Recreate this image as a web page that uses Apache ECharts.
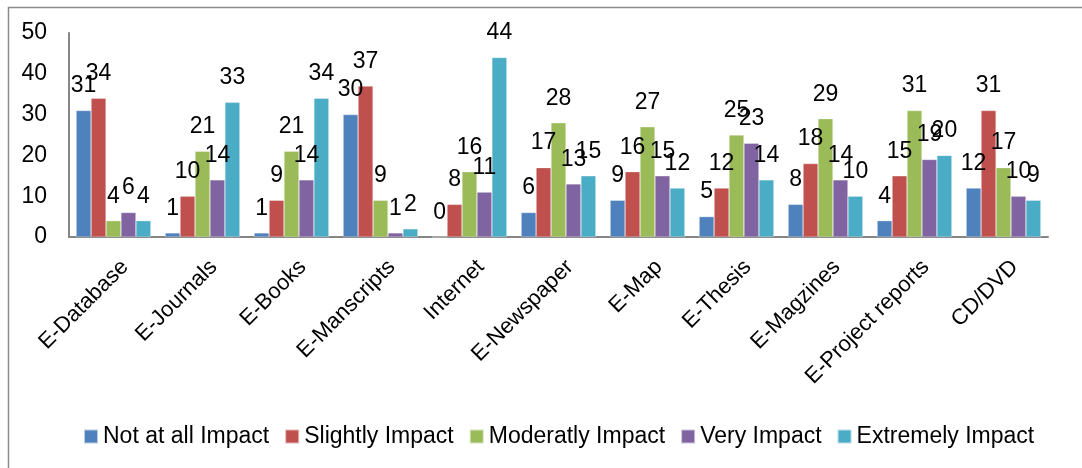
<!DOCTYPE html>
<html><head><meta charset="utf-8">
<script src="https://cdn.jsdelivr.net/npm/echarts@6/dist/echarts.min.js"></script>
<style>html,body{margin:0;padding:0;background:#fff}#c{width:1082px;height:468px}</style>
</head><body><div id="c"></div>
<script>
const categories = ['E-Database','E-Journals','E-Books','E-Manscripts','Internet','E-Newspaper','E-Map','E-Thesis','E-Magzines','E-Project reports','CD/DVD'];
const seriesNames = ['Not at all Impact','Slightly Impact','Moderatly Impact','Very Impact','Extremely Impact'];
const notAtAll   = [31, 1, 1, 30, 0, 6, 9, 5, 8, 4, 12];
const slightly   = [34, 10, 9, 37, 8, 17, 16, 12, 18, 15, 31];
const moderately = [4, 21, 21, 9, 16, 28, 27, 25, 29, 31, 17];
const very       = [6, 14, 14, 1, 11, 13, 15, 23, 14, 19, 10];
const extremely  = [4, 33, 34, 2, 44, 15, 12, 14, 10, 20, 9];
const yTicks = [0, 10, 20, 30, 40, 50];

const colors = ['#4F81BD','#C0504D','#9BBB59','#8064A2','#4BACC6'];
const values = [notAtAll, slightly, moderately, very, extremely];
const font = '"Liberation Sans", Arial, sans-serif';

const chart = echarts.init(document.getElementById('c'), null, {renderer:'canvas'});
chart.setOption({
  animation: false,
  color: colors,
  grid: {left: 69, right: 34, top: 33, bottom: 231},
  legend: {
    data: seriesNames,
    bottom: 15,
    left: 78,
    itemWidth: 14, itemHeight: 14, itemGap: 15,
    icon: 'rect',
    textStyle: {fontFamily: font, fontSize: 23, color: '#000'}
  },
  xAxis: {
    type: 'category',
    data: categories,
    axisLine: {lineStyle: {color: '#868686', width: 2}},
    axisTick: {show: false},
    axisLabel: {rotate: 45, interval: 0, margin: 38, padding: [0, -16, 0, 0], fontFamily: font, fontSize: 22, color: '#000'}
  },
  yAxis: {
    type: 'value',
    min: yTicks[0], max: yTicks[yTicks.length-1], interval: 10,
    axisLine: {show: true, lineStyle: {color: '#868686', width: 2}},
    axisTick: {show: false},
    splitLine: {show: false},
    axisLabel: {margin: 22, fontFamily: font, fontSize: 23, color: '#000'}
  },
  series: seriesNames.map((n, i) => ({
    name: n,
    type: 'bar',
    data: values[i],
    barGap: '0%',
    barCategoryGap: '16%',
    itemStyle: {color: colors[i], borderColor: 'rgba(255,255,255,0.6)', borderWidth: 0.5},
    label: {show: true, position: 'top', distance: 13, fontFamily: font, fontSize: 23, color: '#000'}
  })),
  graphic: [{
    type: 'rect', left: 6, top: 5,
    shape: {width: 1200, height: 600},
    style: {fill: 'none', stroke: '#8a8a8a', lineWidth: 1.5},
    silent: true
  }]
});
</script></body></html>
